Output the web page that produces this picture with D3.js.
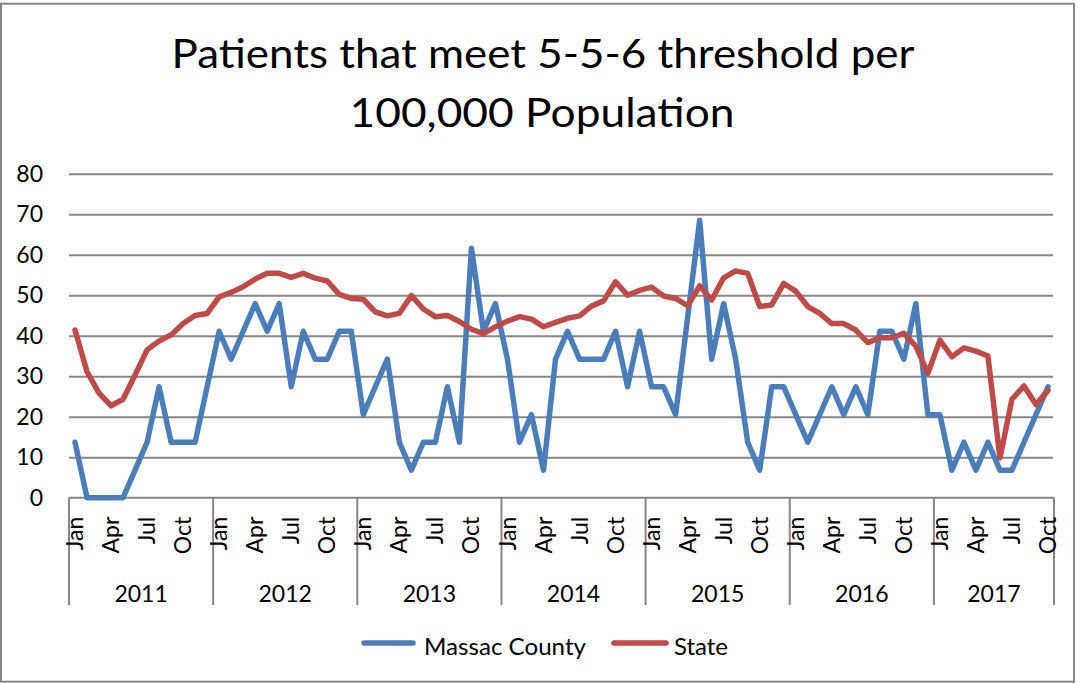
<!DOCTYPE html>
<html>
<head>
<meta charset="utf-8">
<script src="https://d3js.org/d3.v7.min.js"></script>
<style>
  html, body { margin: 0; padding: 0; background: #ffffff; }
  svg { display: block; font-family: Lato, "Open Sans", "DejaVu Sans", sans-serif; }
</style>
</head>
<body>
<svg id="chart" width="1081" height="683"></svg>
<script>
// ---------------- data ----------------
const titleLines = ["Patients that meet 5-5-6 threshold per", "100,000 Population"];
const years = ["2011", "2012", "2013", "2014", "2015", "2016", "2017"];
const monthNames = ["Jan", "Feb", "Mar", "Apr", "May", "Jun", "Jul", "Aug", "Sep", "Oct", "Nov", "Dec"];
const monthsInYear = [12, 12, 12, 12, 12, 12, 10];
const shownMonths = ["Jan", "Apr", "Jul", "Oct"];
const yTicks = [0, 10, 20, 30, 40, 50, 60, 70, 80];
const seriesNames = ["Massac County", "State"];

const massac = [
  13.7, 0, 0, 0, 0, 6.8, 13.7, 27.4, 13.7, 13.7, 13.7, 27.4,
  41.1, 34.2, 41.1, 47.9, 41.1, 47.9, 27.4, 41.1, 34.2, 34.2, 41.1, 41.1,
  20.5, 27.4, 34.2, 13.7, 6.8, 13.7, 13.7, 27.4, 13.7, 61.6, 41.1, 47.9,
  34.2, 13.7, 20.5, 6.8, 34.2, 41.1, 34.2, 34.2, 34.2, 41.1, 27.4, 41.1,
  27.4, 27.4, 20.5, 44.5, 68.5, 34.2, 47.9, 34.2, 13.7, 6.8, 27.4, 27.4,
  20.5, 13.7, 20.5, 27.4, 20.5, 27.4, 20.5, 41.1, 41.1, 34.2, 47.9, 20.5,
  20.5, 6.8, 13.7, 6.8, 13.7, 6.8, 6.8, 13.7, 20.5, 27.4
];
const state = [
  41.4, 31.1, 25.8, 22.7, 24.3, 30.3, 36.5, 38.7, 40.2, 43.0, 45.0, 45.5,
  49.6, 50.7, 52.1, 54.0, 55.4, 55.4, 54.4, 55.4, 54.2, 53.5, 50.2, 49.2,
  49.0, 45.9, 44.9, 45.5, 49.9, 46.6, 44.7, 45.0, 43.5, 41.6, 40.5, 42.2,
  43.6, 44.7, 44.1, 42.2, 43.3, 44.3, 44.9, 47.3, 48.6, 53.3, 50.0, 51.2,
  52.0, 49.8, 49.2, 47.4, 52.3, 48.8, 54.3, 56.0, 55.4, 47.2, 47.6, 52.9,
  51.0, 47.2, 45.5, 43.0, 43.0, 41.4, 38.3, 39.5, 39.5, 40.6, 37.4, 30.7,
  38.9, 34.8, 37.0, 36.2, 35.0, 9.8, 24.3, 27.6, 23.0, 26.5
];

// ---------------- build categories ----------------
const categories = [];
const yearSpans = [];
years.forEach((yr, k) => {
  const start = categories.length;
  monthNames.slice(0, monthsInYear[k]).forEach(m => categories.push({ year: yr, month: m }));
  yearSpans.push({ year: yr, start: start, end: categories.length - 1 });
});

// ---------------- layout ----------------
const W = 1081, H = 683;
const plot = { left: 69, right: 1054, top: 173.7, bottom: 497.7 };
const colors = { massac: "#4A7EBB", state: "#BE4B48", grid: "#868686", text: "#000000" };

const svg = d3.select("#chart");

// outer frame
svg.append("rect")
  .attr("x", 1).attr("y", 3.7).attr("width", 1073).attr("height", 678)
  .attr("fill", "#ffffff").attr("stroke", colors.grid).attr("stroke-width", 2);

const x = d3.scaleBand().domain(d3.range(categories.length)).range([plot.left, plot.right]).padding(0);
const y = d3.scaleLinear().domain([0, 80]).range([plot.bottom, plot.top]);

// title
const title = svg.append("g").attr("class", "title");
title.append("text")
  .attr("x", 543).attr("y", 68)
  .attr("text-anchor", "middle")
  .attr("font-size", 40)
  .attr("textLength", 743).attr("lengthAdjust", "spacingAndGlyphs")
  .attr("fill", colors.text)
  .text(titleLines[0]);
title.append("text")
  .attr("x", 542).attr("y", 127)
  .attr("text-anchor", "middle")
  .attr("font-size", 40)
  .attr("textLength", 385).attr("lengthAdjust", "spacingAndGlyphs")
  .attr("fill", colors.text)
  .text(titleLines[1]);

// gridlines
const grid = svg.append("g")
  .attr("transform", `translate(${plot.left},0)`)
  .call(d3.axisLeft(y).tickValues(yTicks.filter(v => v > 0)).tickSize(-(plot.right - plot.left - 1)).tickFormat(""));
grid.select(".domain").remove();
grid.selectAll("line").attr("stroke", colors.grid).attr("stroke-width", 2);

// y labels
const yAxis = svg.append("g")
  .attr("transform", `translate(${plot.left},0)`)
  .call(d3.axisLeft(y).tickValues(yTicks).tickSize(0).tickPadding(26));
yAxis.select(".domain").remove();
yAxis.selectAll("text")
  .attr("font-size", 23).attr("font-family", "Lato, 'Open Sans', sans-serif")
  .attr("fill", colors.text);

// x axis baseline
svg.append("line")
  .attr("x1", plot.left).attr("x2", plot.right)
  .attr("y1", plot.bottom).attr("y2", plot.bottom)
  .attr("stroke", colors.grid).attr("stroke-width", 2);

// year separators
const sepX = yearSpans.map(s => x(s.start)).concat([x.range()[1]]);
svg.append("g").selectAll("line").data(sepX).join("line")
  .attr("x1", d => d).attr("x2", d => d)
  .attr("y1", plot.bottom).attr("y2", 605)
  .attr("stroke", colors.grid).attr("stroke-width", 2);

// month labels (rotated)
const monthIdx = d3.range(categories.length).filter(i => shownMonths.includes(categories[i].month));
const xAxis = svg.append("g")
  .attr("transform", `translate(0,${plot.bottom})`)
  .call(d3.axisBottom(x).tickValues(monthIdx).tickSize(0).tickFormat(i => categories[i].month));
xAxis.select(".domain").remove();
xAxis.selectAll("text")
  .attr("transform", "rotate(-90)")
  .attr("x", -19).attr("y", 0).attr("dy", "0.35em")
  .attr("text-anchor", "end")
  .attr("font-size", 23).attr("font-family", "Lato, 'Open Sans', sans-serif")
  .attr("fill", colors.text);

// year labels
svg.append("g").selectAll("text").data(yearSpans).join("text")
  .attr("x", d => (x(d.start) + x(d.end) + x.bandwidth()) / 2)
  .attr("y", 602)
  .attr("text-anchor", "middle")
  .attr("font-size", 23)
  .attr("fill", colors.text)
  .text(d => d.year);

// lines
const line = d3.line()
  .x((d, i) => x(i) + x.bandwidth() / 2)
  .y(d => y(d));

svg.append("path").datum(massac)
  .attr("d", line)
  .attr("fill", "none").attr("stroke", colors.massac).attr("stroke-width", 5.5)
  .attr("stroke-linejoin", "round").attr("stroke-linecap", "round");

svg.append("path").datum(state)
  .attr("d", line)
  .attr("fill", "none").attr("stroke", colors.state).attr("stroke-width", 5.5)
  .attr("stroke-linejoin", "round").attr("stroke-linecap", "round");

// legend
const legendItems = [
  { name: seriesNames[0], color: colors.massac, x1: 364, x2: 413, tx: 424, tw: 162 },
  { name: seriesNames[1], color: colors.state, x1: 614, x2: 666, tx: 674, tw: 54 }
];
const legend = svg.append("g");
legend.selectAll("line").data(legendItems).join("line")
  .attr("x1", d => d.x1).attr("x2", d => d.x2)
  .attr("y1", 643).attr("y2", 643)
  .attr("stroke", d => d.color).attr("stroke-width", 5.5)
  .attr("stroke-linecap", "round");
legend.selectAll("text").data(legendItems).join("text")
  .attr("x", d => d.tx).attr("y", 655)
  .attr("font-size", 23)
  .attr("textLength", d => d.tw).attr("lengthAdjust", "spacingAndGlyphs")
  .attr("fill", colors.text)
  .text(d => d.name);
</script>
</body>
</html>
